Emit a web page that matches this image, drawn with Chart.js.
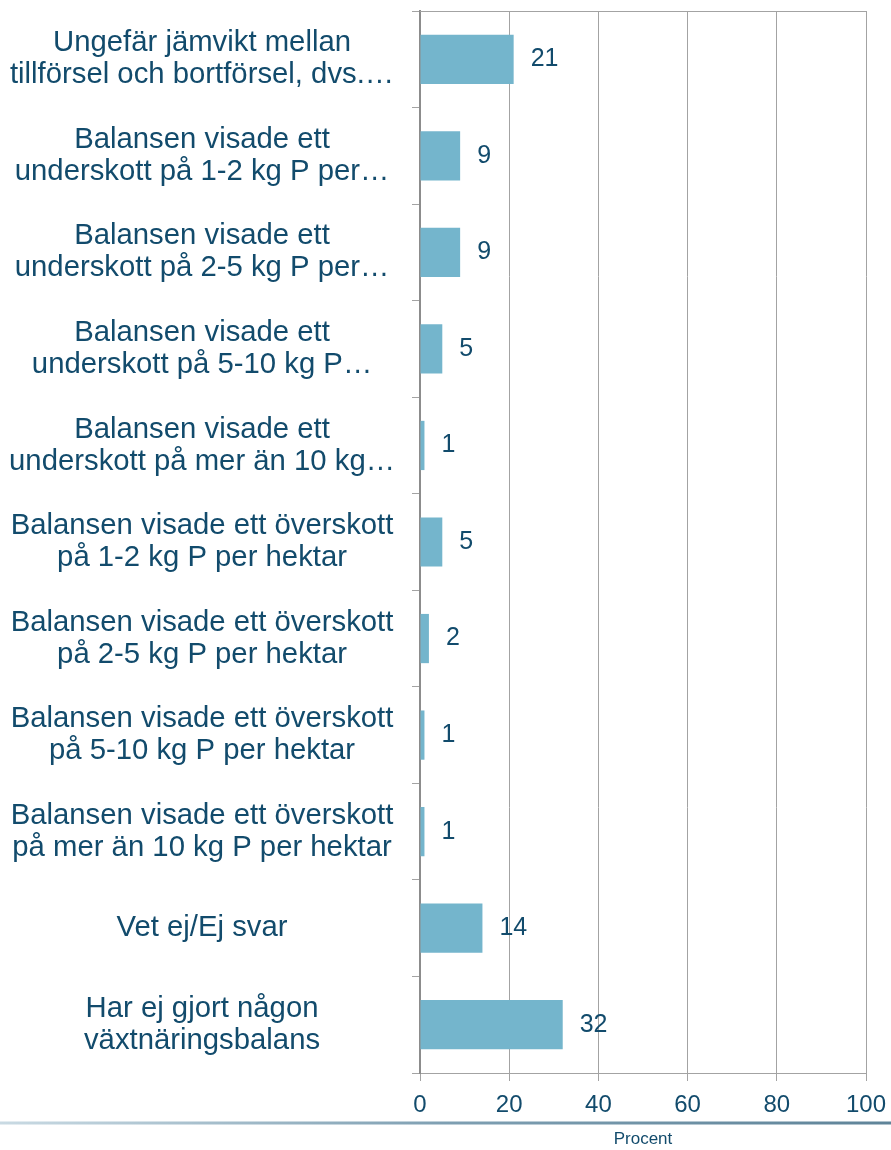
<!DOCTYPE html>
<html>
<head>
<meta charset="utf-8">
<script src="https://cdn.jsdelivr.net/npm/chart.js@4.4.1/dist/chart.umd.min.js"></script>
<style>
  body { margin: 0; background: #fff; }
  canvas { display: block; }
</style>
</head>
<body>
<canvas id="chart" width="891" height="1150"></canvas>
<script>
// svar om fosforbalans
var kategorier = [
    ['Ungefär jämvikt mellan', 'tillförsel och bortförsel, dvs.…'],
    ['Balansen visade ett', 'underskott på 1-2 kg P per…'],
    ['Balansen visade ett', 'underskott på 2-5 kg P per…'],
    ['Balansen visade ett', 'underskott på 5-10 kg P…'],
    ['Balansen visade ett', 'underskott på mer än 10 kg…'],
    ['Balansen visade ett överskott', 'på 1-2 kg P per hektar'],
    ['Balansen visade ett överskott', 'på 2-5 kg P per hektar'],
    ['Balansen visade ett överskott', 'på 5-10 kg P per hektar'],
    ['Balansen visade ett överskott', 'på mer än 10 kg P per hektar'],
    'Vet ej/Ej svar',
    ['Har ej gjort någon', 'växtnäringsbalans']
];
var procent = [21, 9, 9, 5, 1, 5, 2, 1, 1, 14, 32];
var xTicks = [0, 20, 40, 60, 80, 100];

var textfarg = '#124b6c';
var gridfarg = '#a3a3a3';
var typsnitt = '"Liberation Sans", Arial, sans-serif';

// etiketter till höger om staplarna
var vardeEtiketter = {
    id: 'vardeEtiketter',
    afterDatasetsDraw: function(chart) {
        var ctx = chart.ctx;
        var meta = chart.getDatasetMeta(0);
        ctx.save();
        ctx.font = '25px ' + typsnitt;
        ctx.fillStyle = textfarg;
        ctx.textAlign = 'left';
        ctx.textBaseline = 'middle';
        meta.data.forEach(function(bar, i) {
            ctx.fillText(String(procent[i]), bar.x + 17, bar.y);
        });
        ctx.restore();
    }
};

// topplinje och linjen längst ner
var ramar = {
    id: 'ramar',
    afterDraw: function(chart) {
        var ctx = chart.ctx;
        var a = chart.chartArea;
        ctx.save();
        ctx.strokeStyle = gridfarg;
        ctx.lineWidth = 1;
        ctx.beginPath();
        ctx.moveTo(a.left, a.top + 0.5);
        ctx.lineTo(a.right, a.top + 0.5);
        ctx.stroke();
        var y = chart.height - 27;
        var g = ctx.createLinearGradient(0, 0, chart.width, 0);
        g.addColorStop(0, '#c9dae3');
        g.addColorStop(0.5, '#7e9fb2');
        g.addColorStop(1, '#5f8499');
        ctx.strokeStyle = g;
        ctx.lineWidth = 3;
        ctx.beginPath();
        ctx.moveTo(0, y);
        ctx.lineTo(chart.width, y);
        ctx.stroke();
        ctx.restore();
    }
};

var canvas = document.getElementById('chart').getContext('2d');
window.stapel = new Chart(canvas, {
    type: 'bar',
    data: {
        labels: kategorier,
        datasets: [{
            data: procent,
            backgroundColor: '#74b5cc',
            borderWidth: 0,
            barPercentage: 0.51,
            categoryPercentage: 1
        }]
    },
    options: {
        indexAxis: 'y',
        responsive: false,
        animation: false,
        layout: { padding: { left: 0, right: 25, top: 11, bottom: 0 } },
        plugins: {
            legend: { display: false },
            tooltip: { enabled: false }
        },
        scales: {
            x: {
                min: 0,
                max: 100,
                afterBuildTicks: function(scale) {
                    scale.ticks = xTicks.map(function(v) { return { value: v }; });
                },
                afterFit: function(scale) {
                    scale.height = 77;
                    scale.paddingLeft = 0;
                    scale.paddingRight = 0;
                },
                grid: { color: gridfarg, lineWidth: 1, tickLength: 8 },
                border: { color: gridfarg, width: 1 },
                ticks: {
                    color: textfarg,
                    padding: 10,
                    font: { family: typsnitt, size: 24 }
                },
                title: {
                    display: true,
                    text: 'Procent',
                    color: textfarg,
                    padding: { top: 1, bottom: 0 },
                    font: { family: typsnitt, size: 17 }
                }
            },
            y: {
                afterFit: function(scale) {
                    scale.width = 420;
                    scale.paddingTop = 0;
                    scale.paddingBottom = 0;
                },
                grid: { drawOnChartArea: false, color: gridfarg, tickLength: 8, offset: true },
                border: { color: '#8c8c8c', width: 2 },
                ticks: {
                    color: textfarg,
                    crossAlign: 'center',
                    padding: 17,
                    font: { family: typsnitt, size: 29.3, lineHeight: 1.09 }
                }
            }
        }
    },
    plugins: [vardeEtiketter, ramar]
});
</script>
</body>
</html>
